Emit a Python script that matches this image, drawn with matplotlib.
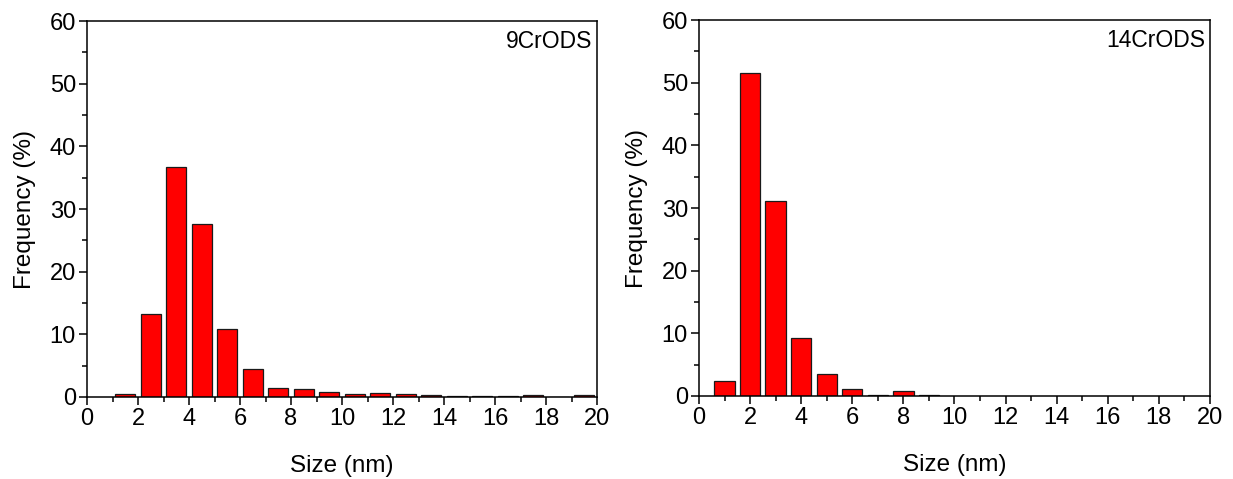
import matplotlib
matplotlib.use("Agg")
import matplotlib.pyplot as plt
from matplotlib.ticker import MultipleLocator

plt.rcParams["font.family"] = ["Liberation Sans", "DejaVu Sans"]

# 9CrODS: bin centres (nm) and frequency (%)
size_9cr = [1.5, 2.5, 3.5, 4.5, 5.5, 6.5, 7.5, 8.5, 9.5, 10.5,
            11.5, 12.5, 13.5, 14.5, 15.5, 16.5, 17.5, 18.5, 19.5]
freq_9cr = [0.5, 13.3, 36.7, 27.6, 10.8, 4.4, 1.4, 1.2, 0.8, 0.5,
            0.65, 0.5, 0.27, 0.16, 0.16, 0.16, 0.27, 0.0, 0.27]

# 14CrODS
size_14cr = [1, 2, 3, 4, 5, 6, 7, 8, 9]
freq_14cr = [2.4, 51.6, 31.2, 9.3, 3.5, 1.1, 0.2, 0.75, 0.2]

panels = [
    ("9CrODS", size_9cr, freq_9cr, [0.0706, 0.1712, 0.4136, 0.7848]),
    ("14CrODS", size_14cr, freq_14cr, [0.5669, 0.1733, 0.4144, 0.7848]),
]

fig = plt.figure(figsize=(12.33, 4.79), dpi=100)

for name, x, y, rect in panels:
    ax = fig.add_axes(rect)
    ax.bar(x, y, width=0.8, color="#ff0000", edgecolor="#1a1a1a", linewidth=0.9)
    ax.set_xlim(0, 20)
    ax.set_ylim(0, 60)
    ax.xaxis.set_major_locator(MultipleLocator(2))
    ax.xaxis.set_minor_locator(MultipleLocator(1))
    ax.yaxis.set_major_locator(MultipleLocator(10))
    ax.yaxis.set_minor_locator(MultipleLocator(5))
    ax.tick_params(which="major", direction="out", length=6, width=1.1,
                   labelsize=17, pad=2, top=False, right=False)
    ax.tick_params(which="minor", direction="out", length=3.5, width=1.1,
                   top=False, right=False)
    for sp in ax.spines.values():
        sp.set_linewidth(1.1)
    ax.set_xlabel("Size (nm)", fontsize=17.5, labelpad=18)
    ax.set_ylabel("Frequency (%)", fontsize=17.5, labelpad=10)
    ax.text(0.99, 0.975, name, transform=ax.transAxes, ha="right", va="top",
            fontsize=16.5)

fig.savefig("out.png", dpi=100)
plt.close(fig)
